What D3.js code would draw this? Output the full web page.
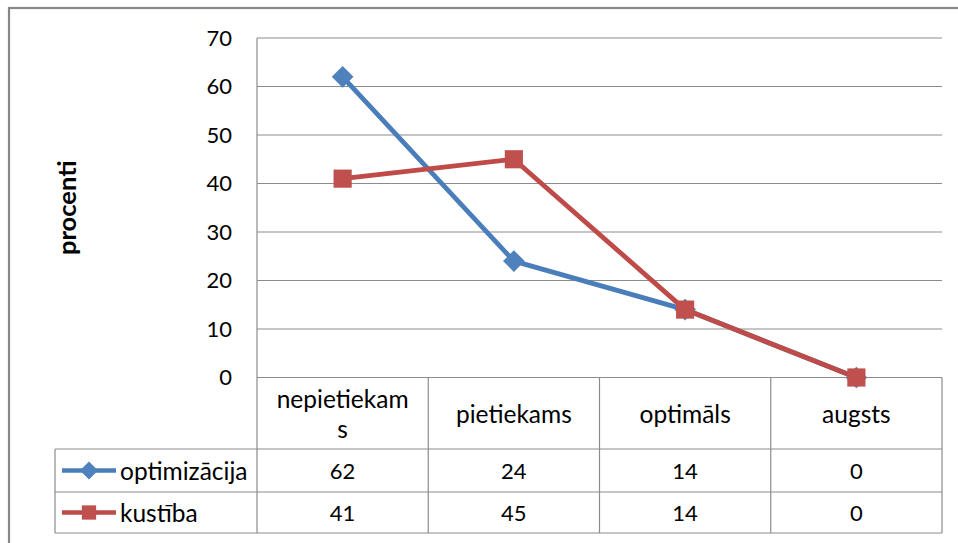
<!DOCTYPE html>
<html>
<head>
<meta charset="utf-8">
<script src="https://cdn.jsdelivr.net/npm/d3@7"></script>
<style>
  html, body { margin: 0; padding: 0; background: #fff; }
  svg { display: block; font-family: Lato, "Noto Sans", sans-serif; }
</style>
</head>
<body>
<svg id="chart" width="958" height="543"></svg>
<script>
// Categories and series values
const categories = ["nepietiekams", "pietiekams", "optimāls", "augsts"];
const categoryLines = [["nepietiekam", "s"], ["pietiekams"], ["optimāls"], ["augsts"]];
const seriesNames = ["optimizācija", "kustība"];
const optimizacija = [62, 24, 14, 0];
const kustiba = [41, 45, 14, 0];
const yTicks = [0, 10, 20, 30, 40, 50, 60, 70];
const yTitle = "procenti";

const series = [
  { name: seriesNames[0], values: optimizacija, color: "#4A7EBB", fill: "#4F81BD", symbol: d3.symbolDiamond2 },
  { name: seriesNames[1], values: kustiba, color: "#BE4B48", fill: "#C0504D", symbol: d3.symbolSquare2 }
];

const svg = d3.select("#chart");
const gridColor = "#8c8c8c";
const numSize = 22;   // numbers
const wordSize = 24.5; // words

// outer chart frame (runs past the right and bottom edges)
svg.append("rect")
  .attr("x", 9).attr("y", 8)
  .attr("width", 1000).attr("height", 600)
  .attr("fill", "none").attr("stroke", "#878787").attr("stroke-width", 2.2);

const plot = { left: 257, right: 942, top: 38, bottom: 377.5 };
const table = { left: 55, headerBottom: 449, row1Bottom: 492, row2Bottom: 533 };

const x = d3.scaleBand().domain(categories).range([plot.left, plot.right]);
const y = d3.scaleLinear().domain([0, 70]).range([plot.bottom, plot.top]);
const cx = c => x(c) + x.bandwidth() / 2;

// horizontal gridlines
svg.append("g").selectAll("line").data(yTicks.filter(t => t > 0)).join("line")
  .attr("x1", plot.left).attr("x2", plot.right)
  .attr("y1", d => y(d)).attr("y2", d => y(d))
  .attr("stroke", gridColor).attr("stroke-width", 1.2);

// y axis labels
const yAxis = d3.axisLeft(y).tickValues(yTicks).tickSize(0).tickPadding(25).tickFormat(d3.format("d"));
const gy = svg.append("g").attr("transform", `translate(${plot.left},0)`).call(yAxis);
gy.select(".domain").remove();
gy.selectAll("text")
  .attr("font-family", "Lato, 'Noto Sans', sans-serif")
  .attr("font-size", numSize).attr("fill", "#000");

// y axis title
svg.append("text")
  .attr("transform", `translate(66,${(plot.top + plot.bottom) / 2}) rotate(-90)`)
  .attr("text-anchor", "middle").attr("dominant-baseline", "central")
  .attr("font-size", 25.5).attr("font-weight", "bold")
  .text(yTitle);

// data table grid
const tg = svg.append("g").attr("stroke", gridColor).attr("stroke-width", 1.2);
// category axis line / table top
tg.append("line").attr("x1", plot.left).attr("x2", plot.right).attr("y1", y(0)).attr("y2", y(0));
[table.headerBottom, table.row1Bottom, table.row2Bottom].forEach(v =>
  tg.append("line").attr("x1", table.left).attr("x2", plot.right).attr("y1", v).attr("y2", v));
// left plot border continuing through the table
tg.append("line").attr("x1", plot.left).attr("x2", plot.left).attr("y1", plot.top).attr("y2", table.row2Bottom);
tg.append("line").attr("x1", table.left).attr("x2", table.left).attr("y1", table.headerBottom).attr("y2", table.row2Bottom);
categories.forEach(c => {
  const xr = x(c) + x.bandwidth();
  tg.append("line").attr("x1", xr).attr("x2", xr).attr("y1", y(0)).attr("y2", table.row2Bottom);
});

// category labels
const headerMid = (y(0) + table.headerBottom) / 2;
categories.forEach((c, i) => {
  const lines = categoryLines[i];
  const lh = 30;
  lines.forEach((ln, j) => {
    svg.append("text")
      .attr("x", cx(c))
      .attr("y", headerMid + (j - (lines.length - 1) / 2) * lh)
      .attr("text-anchor", "middle").attr("dominant-baseline", "central")
      .attr("font-size", wordSize).text(ln);
  });
});

// table rows: legend key + values
const rowMids = [(table.headerBottom + table.row1Bottom) / 2, (table.row1Bottom + table.row2Bottom) / 2];
series.forEach((s, i) => {
  const ym = rowMids[i];
  svg.append("line").attr("x1", 62).attr("x2", 116).attr("y1", ym).attr("y2", ym)
    .attr("stroke", s.color).attr("stroke-width", 4.5);
  svg.append("path").attr("d", d3.symbol(s.symbol, i === 0 ? 210 : 260)())
    .attr("transform", `translate(89,${ym})`).attr("fill", s.fill);
  svg.append("text").attr("x", 120).attr("y", ym)
    .attr("dominant-baseline", "central").attr("font-size", wordSize).text(s.name);
  s.values.forEach((v, k) => {
    svg.append("text").attr("x", cx(categories[k])).attr("y", ym)
      .attr("text-anchor", "middle").attr("dominant-baseline", "central")
      .attr("font-size", numSize).text(v);
  });
});

// series lines and markers
const line = d3.line().x((d, i) => cx(categories[i])).y(d => y(d));
series.forEach((s, i) => {
  svg.append("path").datum(s.values).attr("d", line)
    .attr("fill", "none").attr("stroke", s.color).attr("stroke-width", 4.8)
    .attr("stroke-linejoin", "round").attr("stroke-linecap", "round");
  svg.append("g").selectAll("path").data(s.values).join("path")
    .attr("d", d3.symbol(s.symbol, i === 0 ? 300 : 420)())
    .attr("transform", (d, k) => `translate(${cx(categories[k])},${y(d)})`)
    .attr("fill", s.fill);
});
</script>
</body>
</html>
